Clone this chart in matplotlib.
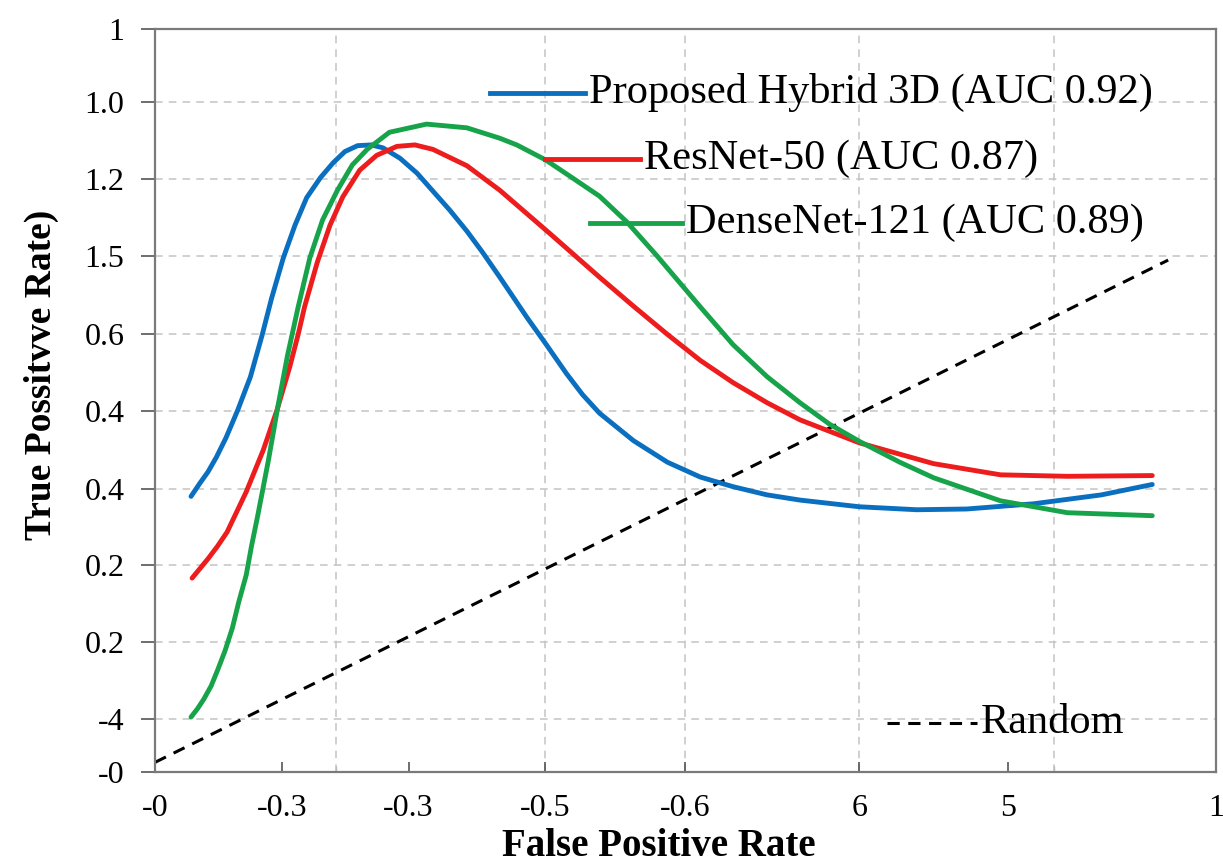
import matplotlib.pyplot as plt

plt.rcParams['font.family'] = ['Liberation Serif', 'DejaVu Serif']

# curve points (axis fraction units, 0..1 on both axes)
blue_x = [0.034, 0.042, 0.050, 0.058, 0.067, 0.078, 0.090, 0.101, 0.110, 0.121,
          0.132, 0.143, 0.156, 0.168, 0.179, 0.191, 0.204, 0.215, 0.231, 0.247,
          0.278, 0.294, 0.309, 0.325, 0.351, 0.368, 0.388, 0.403, 0.419, 0.451,
          0.483, 0.514, 0.545, 0.577, 0.608, 0.664, 0.718, 0.765, 0.828, 0.892,
          0.940]
blue_y = [0.371, 0.388, 0.404, 0.424, 0.450, 0.487, 0.532, 0.588, 0.638, 0.692,
          0.736, 0.773, 0.800, 0.820, 0.835, 0.843, 0.844, 0.840, 0.826, 0.806,
          0.756, 0.728, 0.699, 0.666, 0.611, 0.577, 0.536, 0.508, 0.483, 0.446,
          0.417, 0.397, 0.384, 0.373, 0.366, 0.357, 0.353, 0.354, 0.361, 0.373,
          0.387]

red_x = [0.035, 0.050, 0.059, 0.068, 0.076, 0.086, 0.102, 0.115, 0.127, 0.135,
         0.141, 0.153, 0.165, 0.177, 0.193, 0.209, 0.228, 0.245, 0.262, 0.294,
         0.325, 0.372, 0.419, 0.451, 0.483, 0.514, 0.545, 0.577, 0.608, 0.664,
         0.734, 0.797, 0.860, 0.940]
red_y = [0.261, 0.287, 0.304, 0.323, 0.347, 0.377, 0.433, 0.487, 0.545, 0.589,
         0.626, 0.686, 0.736, 0.774, 0.810, 0.830, 0.842, 0.844, 0.838, 0.816,
         0.783, 0.725, 0.666, 0.627, 0.589, 0.554, 0.524, 0.497, 0.474, 0.443,
         0.415, 0.400, 0.398, 0.399]

green_x = [0.034, 0.040, 0.046, 0.053, 0.059, 0.066, 0.073, 0.079, 0.086, 0.091,
           0.097, 0.107, 0.116, 0.125, 0.135, 0.146, 0.158, 0.172, 0.186, 0.200,
           0.221, 0.256, 0.294, 0.325, 0.341, 0.368, 0.391, 0.419, 0.445, 0.473,
           0.514, 0.545, 0.577, 0.608, 0.636, 0.664, 0.702, 0.734, 0.797, 0.860,
           0.940]
green_y = [0.074, 0.085, 0.098, 0.116, 0.137, 0.163, 0.194, 0.229, 0.265, 0.304,
           0.346, 0.420, 0.493, 0.561, 0.626, 0.692, 0.743, 0.783, 0.817, 0.838,
           0.861, 0.872, 0.867, 0.853, 0.844, 0.824, 0.802, 0.775, 0.740, 0.695,
           0.626, 0.575, 0.532, 0.497, 0.468, 0.445, 0.417, 0.396, 0.365, 0.349,
           0.345]

random_x = [0.0, 0.955]
random_y = [0.013, 0.689]

labels = ['Proposed Hybrid 3D (AUC 0.92)', 'ResNet-50 (AUC 0.87)',
          'DenseNet-121 (AUC 0.89)']
colors = ['#0b6fc0', '#ee1d1d', '#17a34a']

xtick_pos = [0.0, 0.120, 0.239, 0.368, 0.500, 0.664, 0.804, 1.0]
xtick_labels = ['-0', '-0.3', '-0.3', '-0.5', '-0.6', '6', '5', '1']
xgrid_pos = [0.171, 0.368, 0.500, 0.664, 0.847]

ytick_pos = [0.0, 0.071, 0.175, 0.278, 0.381, 0.486, 0.590, 0.695, 0.798, 0.902, 1.0]
ytick_labels = ['-0', '-4', '0.2', '0.2', '0.4', '0.4', '0.6', '1.5', '1.2', '1.0', '1']

fig = plt.figure(figsize=(12.23, 8.63), dpi=100)
ax = fig.add_axes([0.1267, 0.1054, 0.8675, 0.861])

# grid
for gx in xgrid_pos:
    ax.axvline(gx, color='#c4c4c4', lw=1.1, ls=(0, (5, 4)), zorder=0)
for gy in ytick_pos[1:-1]:
    ax.axhline(gy, color='#c4c4c4', lw=1.1, ls=(0, (5, 4)), zorder=0)

for xs, ys, c in zip([blue_x, red_x, green_x], [blue_y, red_y, green_y], colors):
    ax.plot(xs, ys, color=c, lw=3.5, solid_capstyle='round',
            solid_joinstyle='round', zorder=3)
ax.plot(random_x, random_y, color='black', lw=2.2, dashes=(4, 2.8), zorder=2)

ax.set_xlim(0, 1)
ax.set_ylim(0, 1)
ax.set_xticks(xtick_pos)
ax.set_xticklabels(xtick_labels)
ax.set_xticks(xgrid_pos[:1] + xgrid_pos[-1:], minor=True)
ax.set_yticks(ytick_pos)
ax.set_yticklabels(ytick_labels)

ax.tick_params(axis='x', direction='in', length=7, width=1.2, color='#555555',
               labelsize=23, pad=16)
ax.tick_params(axis='x', which='minor', direction='in', length=4, width=1,
               color='#bbbbbb')
ax.tick_params(axis='y', direction='out', length=10, width=1.2, color='#555555',
               labelsize=23, pad=12)
for sp in ax.spines.values():
    sp.set_color('#7a7a7a')
    sp.set_linewidth(1.6)

# staggered legend entries
leg_rows = [(0.316, 0.405, 0.914), (0.368, 0.457, 0.825), (0.410, 0.497, 0.739)]
for (x0, x1, yy), lab, c in zip(leg_rows, labels, colors):
    ax.plot([x0, x1], [yy, yy], color=c, lw=3.5, transform=ax.transAxes, zorder=4)
    ax.text(x1 + 0.004, yy, lab, transform=ax.transAxes, fontsize=30.5,
            ha='left', va='center', zorder=5)
ax.plot([0.690, 0.775], [0.066, 0.066], color='black', lw=2.2, dashes=(4, 2.8),
        transform=ax.transAxes)
ax.text(0.778, 0.066, 'Random', transform=ax.transAxes, fontsize=30.5,
        ha='left', va='center')

ax.text(0.475, -0.100, 'False Positive Rate', transform=ax.transAxes,
        fontsize=28, fontweight='bold', ha='center', va='center')
ax.text(-0.107, 0.534, 'True Possitvve Rate)', transform=ax.transAxes,
        fontsize=27, fontweight='bold', ha='center', va='center', rotation=90)

fig.savefig('out.png', dpi=100, facecolor='white')
